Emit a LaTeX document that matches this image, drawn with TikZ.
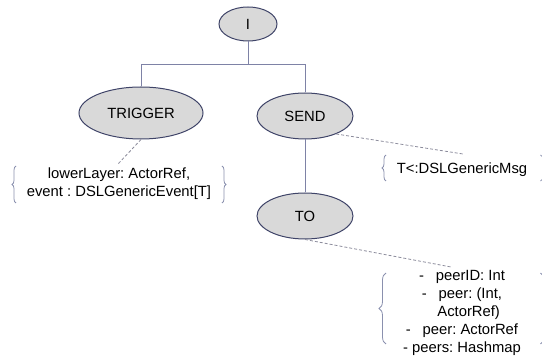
\documentclass[tikz,border=0pt]{standalone}
\usepackage{fontspec}
\setmainfont{Liberation Sans}
\usetikzlibrary{shapes.geometric,decorations.pathreplacing}
\definecolor{efill}{HTML}{D9D9D9}
\definecolor{edraw}{HTML}{3F4468}
\definecolor{lcol}{HTML}{7E82A6}
\definecolor{dcol}{HTML}{8C8C9C}
\definecolor{bcol}{HTML}{8A90AE}
\begin{document}
\frenchspacing
\begin{tikzpicture}[x=1pt,y=-1pt,
  ell/.style={ellipse,draw=edraw,fill=efill,line width=1pt,inner sep=0pt,font=\fontsize{14.8}{18}\selectfont},
  lbl/.style={align=center,inner sep=0pt,font=\fontsize{14.8}{18}\selectfont},
  conn/.style={draw=lcol,line width=1pt},
  dsh/.style={draw=dcol,line width=0.8pt,dash pattern=on 3pt off 2pt},
  brc/.style={draw=bcol,line width=0.8pt,decorate,decoration={brace,amplitude=#1}},
  brc/.default=4pt]
\useasboundingbox (0,0) rectangle (542,358);
% nodes
\node[ell,minimum width=58pt,minimum height=34pt] (i) at (248,24) {I};
\node[ell,minimum width=124pt,minimum height=52pt] (trig) at (141,113) {TRIGGER};
\node[ell,minimum width=96pt,minimum height=46pt] (send) at (305,116) {SEND};
\node[ell,minimum width=96pt,minimum height=46pt] (to) at (305,216) {TO};
% tree connectors
\coordinate (j) at (248,65);
\draw[conn] (i.south) -- (j);
\draw[conn] (trig.north) |- (j);
\draw[conn] (send.north) |- (j);
\draw[conn] (send.south) -- (to.north);
% annotation texts
\node[lbl] (t1) at (119,184) {lowerLayer: ActorRef,\\event : DSLGenericEvent[T]};
\node[lbl] (t2) at (462,170) {T<:DSLGenericMsg};
\node[lbl] (t3) at (462,313) {-\hspace{0.8em}peerID: Int\\-\hspace{0.8em}peer: (Int,\\\hspace*{0.9em}ActorRef)\\-\hspace{0.8em}peer: ActorRef\\- peers: Hashmap};
% dashed connectors
\coordinate (c1) at (118,164);
\coordinate (c2) at (463,154);
\coordinate (c3) at (451,267);
\draw[dsh] (trig.south) -- (c1);
\draw[dsh] (send.-30) -- (c2);
\draw[dsh] (to.south) -- (c3);
% braces
\draw[brc] (16,203) -- (16,166);
\draw[brc] (222,166) -- (222,203);
\draw[brc] (386,181) -- (386,155);
\draw[brc=8pt] (540.5,155) -- (540.5,181);
\draw[brc=7pt] (386,344) -- (386,273);
\draw[brc=8pt] (540.5,273) -- (540.5,344);
\end{tikzpicture}
\end{document}
